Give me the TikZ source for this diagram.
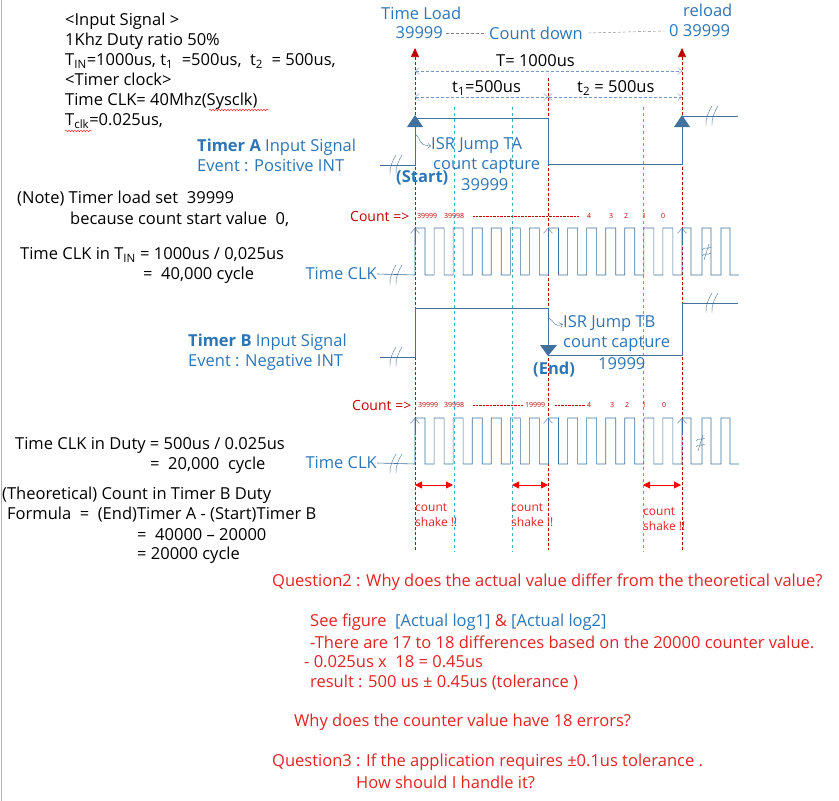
\documentclass[tikz,border=0pt]{standalone}
\usepackage{fontspec}
\setmainfont{Open Sans}
\usetikzlibrary{arrows.meta,decorations.pathmorphing}

\definecolor{sigblue}{RGB}{65,113,156}
\definecolor{lblblue}{RGB}{46,117,182}
\definecolor{darkred}{RGB}{192,0,0}
\definecolor{qred}{RGB}{225,35,35}
\definecolor{skyline}{RGB}{75,172,198}
\definecolor{dimblue}{RGB}{120,150,200}

\begin{document}
\begin{tikzpicture}[x=1pt,y=-1pt,
    txt/.style={anchor=west,inner sep=0pt,font=\fontsize{16.5}{20}\selectfont},
    blk/.style={txt,text=black,align=left},
    lbl/.style={txt,text=lblblue,align=left},
    qst/.style={txt,text=qred},
    cnt/.style={anchor=west,inner sep=0pt,text=darkred,font=\fontsize{7}{8}\selectfont},
    cntlbl/.style={anchor=west,inner sep=0pt,text=darkred,font=\fontsize{14}{16}\selectfont},
    shk/.style={anchor=west,inner sep=0pt,text=qred,align=left,font=\fontsize{12}{15}\selectfont},
    sig/.style={draw=sigblue,semithick},
    reddash/.style={draw=darkred,densely dashed,semithick},
    skydash/.style={draw=skyline,dashed,semithick},
    dimln/.style={draw=dimblue,densely dashed,{Straight Barb[length=4pt,width=7pt]}-{Straight Barb[length=4pt,width=7pt]}},
    shake/.style={draw=red,thick,{Triangle[length=7pt,width=7pt]}-{Triangle[length=7pt,width=7pt]}},
    squig/.style={draw=red,thin,decorate,decoration={snake,amplitude=0.8pt,segment length=3pt}},
    brk/.pic={\draw[sigblue] (-7,10) .. controls (-8,3) and (-4,-5) .. (-1,-10);
              \draw[sigblue] (-1,10) .. controls (-2,3) and (2,-5) .. (5,-10);}]

  \useasboundingbox (0,0) rectangle (839,801);
  \draw[gray!60] (1,0) -- (1,801);

  % marker lines
  \coordinate (sTop) at (415,48);   \coordinate (sBot) at (415,550);
  \coordinate (mTop) at (548,78);   \coordinate (mBot) at (548,550);
  \coordinate (rTop) at (682,48);   \coordinate (rBot) at (682,550);
  \draw[reddash,-{Triangle[length=9pt,width=8pt]}] (sBot) -- (sTop);
  \draw[reddash,-{Triangle[length=9pt,width=8pt]}] (rBot) -- (rTop);
  \draw[reddash] (mTop) -- (mBot);
  \foreach \x in {454,512,643}
    \draw[skydash] (\x,107) -- (\x,552);

  % top labels
  \node[lbl] (tload) at (381,13) {Time Load};
  \node[lbl,anchor=east] (ldval) at (443,33) {39999};
  \node[lbl] (cdown) at (489,33) {Count down};
  \node[lbl] (rlval) at (669,31) {0 39999};
  \node[lbl] (rload) at (683,10) {reload};
  \draw[gray,densely dashed] (ldval.east) ++(3,0) -- ([xshift=-4pt]cdown.west);
  \draw[gray,densely dashed] (cdown.east) ++(5,0) -- ([xshift=-4pt]rlval.west);

  % periods
  \coordinate (pS) at (415,71);  \coordinate (pE) at (682,71);
  \coordinate (hS) at (415,97);  \coordinate (hM) at (548,97);  \coordinate (hE) at (682,97);
  \draw[dimln] (pS) -- (pE);
  \draw[dimln] (hS) -- (hM);
  \draw[dimln] (hM) -- (hE);
  \node[txt] (tper) at (496,61) {T= 1000us};
  \node[txt] (tone) at (452,88) {t\textsubscript{1}=500us};
  \node[txt] (ttwo) at (577,88) {t\textsubscript{2} = 500us};

  % left notes
  \node[blk] (inp) at (65,71) {<Input Signal >\\1Khz Duty ratio 50\%\\
    T\textsubscript{IN}=1000us, t\textsubscript{1}~ =500us,~ t\textsubscript{2}~ = 500us,\\
    <Timer clock>\\Time CLK= 40Mhz(Sysclk)\\T\textsubscript{clk}=0.025us,};
  \draw[squig] (209,110) -- (269,110);
  \draw[squig] (65,131) -- (92,131);

  \node[blk] (note) at (17,199) {(Note) Timer load set~ 39999};
  \node[blk] (note2) at (70,219) {because count start value~ 0,};
  \node[blk] (clkin) at (20,255) {Time CLK in T\textsubscript{IN} = 1000us / 0,025us};
  \node[blk] (clkin2) at (143,275) {=~ 40,000 cycle};
  \node[blk] (duty) at (15,445) {Time CLK in Duty = 500us / 0.025us};
  \node[blk] (duty2) at (150,465) {=~ 20,000~ cycle};
  \node[blk] (theo) at (2,495) {(Theoretical) Count in Timer B Duty};
  \node[blk] (form) at (7,515) {Formula~ =~ (End)Timer A - (Start)Timer B};
  \node[blk] (form2) at (137,535) {=~ 40000 -- 20000};
  \node[blk] (form3) at (137,555) {= 20000 cycle};

  % Timer A input
  \node[lbl] (tAlbl) at (197,155) {\textbf{Timer A} Input Signal\\Event : Positive INT};
  \draw[sig] (380,165) -- (415,165) -- (415,118) -- (548,118) -- (548,164) -- (682,164) -- (682,116) -- (738,116);
  \pic at (397,165) {brk};
  \pic at (713,116) {brk};
  \fill[sigblue] (407,127) -- (423,127) -- (415,115) -- cycle;
  \fill[sigblue] (674,127) -- (690,127) -- (682,115) -- cycle;
  \node[lbl] (isrA) at (431,146) {ISR Jump TA};
  \node[lbl] (capA) at (433,166) {count capture};
  \node[lbl] (valA) at (461,185) {39999};
  \node[lbl] (start) at (396,178) {\textbf{(Start)}};
  \draw[sigblue,-{Straight Barb[length=3pt,width=5pt]}] (416,135) .. controls (422,138) and (416,145) .. (isrA.west);

  % count row A
  \node[cntlbl] (cntA) at (350,216) {Count =>};
  \node[cnt] (a1) at (417,216) {39999};
  \node[cnt] (a2) at (444,216) {39998};
  \draw[darkred,densely dotted,thin] (473,216) -- (579,216);
  \foreach \n/\x in {4/587,3/609,2/624,1/642,0/661}
    \node[cnt] (a\n) at (\x,216) {\n};

  % clock A
  \node[lbl,anchor=east] (clkA) at (377,274) {Time CLK};
  \draw[sig] (clkA.east) -- (415,275) \foreach \k in {0,...,13} { -- ++(0,-47) -- ++(10,0) -- ++(0,47) -- ++(9.07,0) }
    -- ++(0,-47) -- ++(9,0) -- ++(0,47) -- ++(11,0) -- ++(0,-47) -- ++(9,0) -- ++(0,47) -- ++(10,0)
    -- ++(0,-47) -- ++(9,0) -- ++(0,47) -- ++(9,0);
  \pic at (397,275) {brk};
  \foreach \x in {415,548,682}
    \draw[sigblue,-{Straight Barb[length=5pt,width=9pt]}] (\x,245) -- (\x,228);
  \draw[sigblue] (702,250) .. controls (705,246) and (707,250) .. (711,247);
  \draw[sigblue] (702,256) .. controls (705,252) and (707,256) .. (711,253);
  \draw[sigblue] (709,244) -- (704,260);

  % Timer B input
  \node[lbl] (tBlbl) at (188,352) {\textbf{Timer B} Input Signal\\Event : Negative INT};
  \draw[sig] (380,357) -- (415,357) -- (415,308) -- (548,308) -- (548,355) -- (682,355) -- (682,303) -- (738,303);
  \pic at (397,357) {brk};
  \pic at (713,303) {brk};
  \fill[sigblue] (540,345) -- (557,345) -- (548,356) -- cycle;
  \node[lbl] (isrB) at (563,324) {ISR Jump TB};
  \node[lbl] (capB) at (563,344) {count capture};
  \node[lbl] (valB) at (598,364) {19999};
  \node[lbl] (end) at (533,370) {\textbf{(End)}};
  \draw[sigblue,-{Straight Barb[length=3pt,width=5pt]}] (549,318) .. controls (555,321) and (553,328) .. (isrB.west);

  % count row B
  \node[cntlbl] (cntB) at (352,405) {Count =>};
  \node[cnt] (b1) at (418,405) {39999};
  \node[cnt] (b2) at (444,405) {39998};
  \draw[darkred,densely dotted,thin] (473,405) -- (523,405);
  \node[cnt] (bmid) at (525,405) {19999};
  \draw[darkred,densely dotted,thin] (555,405) -- (585,405);
  \foreach \n/\x in {4/587,3/610,2/625,1/642,0/662}
    \node[cnt] (b\n) at (\x,405) {\n};

  % clock B
  \node[lbl,anchor=east] (clkB) at (377,463) {Time CLK};
  \draw[sig] (clkB.east) -- (415,464) \foreach \k in {0,...,13} { -- ++(0,-46) -- ++(10,0) -- ++(0,46) -- ++(9.07,0) }
    -- ++(0,-46) -- ++(9,0) -- ++(0,46) -- ++(11,0) -- ++(0,-46) -- ++(9,0) -- ++(0,46) -- ++(10,0)
    -- ++(0,-46) -- ++(9,0) -- ++(0,46) -- ++(9,0);
  \pic at (397,464) {brk};
  \foreach \x in {415,548,682}
    \draw[sigblue,-{Straight Barb[length=5pt,width=9pt]}] (\x,435) -- (\x,418);
  \draw[sigblue] (696,441) .. controls (699,437) and (701,441) .. (705,438);
  \draw[sigblue] (696,447) .. controls (699,443) and (701,447) .. (705,444);
  \draw[sigblue] (703,435) -- (698,451);

  % count shake
  \coordinate (k1a) at (415,485); \coordinate (k1b) at (453,485);
  \coordinate (k2a) at (512,485); \coordinate (k2b) at (548,485);
  \coordinate (k3a) at (643,485); \coordinate (k3b) at (681,485);
  \draw[shake] (k1a) -- (k1b);
  \draw[shake] (k2a) -- (k2b);
  \draw[shake] (k3a) -- (k3b);
  \node[shk] (sh1) at (415,515) {count\\shake !!};
  \node[shk] (sh2) at (511,515) {count\\shake !!};
  \node[shk] (sh3) at (643,519) {count\\shake !!};

  % questions
  \node[qst] (q2) at (272,582) {Question2 : Why does the actual value differ from the theoretical value?};
  \node[qst] (see) at (310,622) {See figure~ \textcolor{lblblue}{[Actual log1]} \& \textcolor{lblblue}{[Actual log2]}};
  \node[qst] (diff) at (310,642) {-There are 17 to 18 differences based on the 20000 counter value.};
  \node[qst] (calc) at (304,662) {- 0.025us x~ 18 = 0.45us};
  \node[qst] (res) at (310,683) {result : 500 us ± 0.45us (tolerance )};
  \node[qst] (why) at (294,722) {Why does the counter value have 18 errors?};
  \node[qst] (q3) at (272,762) {Question3 : If the application requires ±0.1us tolerance .};
  \node[qst] (how) at (356,782) {How should I handle it?};
\end{tikzpicture}
\end{document}
